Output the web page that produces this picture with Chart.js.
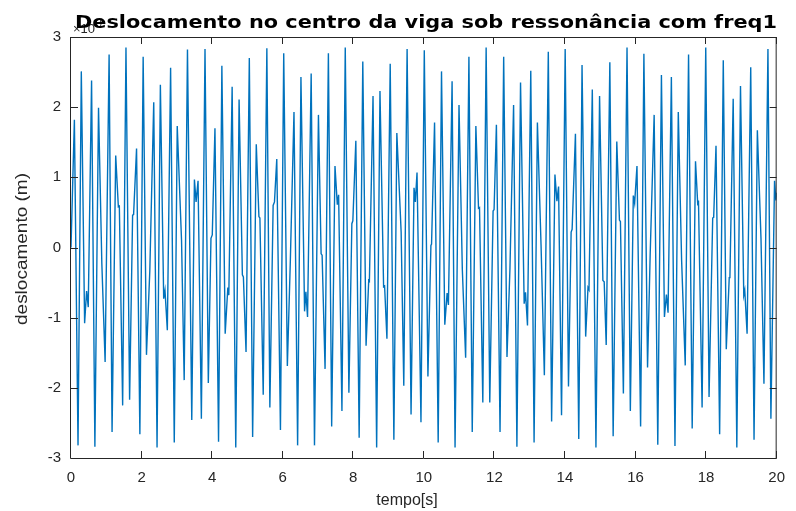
<!DOCTYPE html>
<html>
<head>
<meta charset="utf-8">
<script src="https://cdn.jsdelivr.net/npm/chart.js@4.4.1/dist/chart.umd.min.js"></script>
<style>
  html, body { margin: 0; padding: 0; background: #fff; }
</style>
</head>
<body>
<canvas id="grafico" width="796" height="511"></canvas>
<script>
// tempo em segundos, deslocamento em unidades de 1e-3 m
const tempo = [
  0, 0.096, 0.199, 0.292, 0.386, 0.442, 0.489, 0.583, 0.677, 0.780,
  0.874, 0.967, 1.080, 1.164, 1.267, 1.342, 1.370, 1.464, 1.558, 1.661,
  1.746, 1.774, 1.858, 1.952, 2.045, 2.139, 2.233, 2.345, 2.439, 2.533,
  2.627, 2.664, 2.730, 2.823, 2.927, 3.011, 3.133, 3.208, 3.301, 3.423,
  3.498, 3.545, 3.601, 3.695, 3.798, 3.892, 3.967, 4.004, 4.080, 4.182,
  4.276, 4.370, 4.445, 4.473, 4.567, 4.670, 4.764, 4.857, 4.886, 4.961,
  5.054, 5.148, 5.251, 5.326, 5.354, 5.448, 5.551, 5.636, 5.729, 5.767,
  5.832, 5.936, 6.029, 6.132, 6.217, 6.320, 6.423, 6.517, 6.620, 6.657,
  6.704, 6.807, 6.901, 7.013, 7.089, 7.117, 7.201, 7.295, 7.388, 7.482,
  7.548, 7.585, 7.679, 7.773, 7.876, 7.960, 7.988, 8.073, 8.167, 8.270,
  8.363, 8.438, 8.457, 8.560, 8.663, 8.757, 8.860, 8.888, 8.954, 9.047,
  9.151, 9.235, 9.357, 9.432, 9.526, 9.638, 9.722, 9.760, 9.807, 9.919,
  10.013, 10.116, 10.201, 10.219, 10.304, 10.407, 10.501, 10.594, 10.660, 10.697,
  10.801, 10.885, 10.997, 11.091, 11.185, 11.278, 11.372, 11.475, 11.550, 11.578,
  11.672, 11.766, 11.869, 11.963, 11.991, 12.057, 12.160, 12.263, 12.357, 12.441,
  12.544, 12.638, 12.741, 12.844, 12.882, 12.938, 13.031, 13.125, 13.219, 13.322,
  13.416, 13.528, 13.622, 13.716, 13.772, 13.819, 13.903, 14.006, 14.100, 14.175,
  14.203, 14.297, 14.391, 14.484, 14.587, 14.653, 14.681, 14.775, 14.878, 14.981,
  15.075, 15.112, 15.169, 15.272, 15.366, 15.469, 15.544, 15.572, 15.656, 15.759,
  15.853, 15.937, 15.975, 16.041, 16.144, 16.237, 16.341, 16.415, 16.528, 16.631,
  16.734, 16.819, 16.875, 16.922, 17.016, 17.118, 17.212, 17.306, 17.409, 17.503,
  17.606, 17.700, 17.765, 17.784, 17.887, 17.990, 18.084, 18.187, 18.215, 18.281,
  18.384, 18.487, 18.572, 18.656, 18.675, 18.768, 18.871, 18.975, 19.068, 19.096,
  19.162, 19.265, 19.359, 19.453, 19.556, 19.640, 19.753, 19.837, 19.940, 19.978,
  20.0
];

const deslocamento = [
  0, 1.82, -2.82, 2.51, -1.08, -0.62, -0.85, 2.38, -2.84, 1.99,
  -0.23, -1.63, 2.75, -2.63, 1.31, 0.58, 0.59, -2.25, 2.85, -2.17,
  0.46, 0.47, 1.41, -2.66, 2.72, -1.53, -0.34, 2.07, -2.85, 2.32,
  -0.73, -0.61, -1.18, 2.56, -2.78, 1.73, 0.10, -1.89, 2.82, -2.46,
  0.97, 0.65, 0.95, -2.44, 2.83, -1.93, 0.13, 0.18, 1.70, -2.77,
  2.59, -1.23, -0.57, -0.68, 2.29, -2.85, 2.11, -0.39, -0.42, -1.49,
  2.70, -2.70, 1.47, 0.44, 0.42, -2.10, 2.84, -2.28, 0.60, 0.65,
  1.26, -2.60, 2.77, -1.69, -0.18, 1.93, -2.82, 2.43, -0.91, -0.63,
  -0.99, 2.48, -2.82, 1.89, -0.09, -0.11, -1.73, 2.77, -2.55, 1.16,
  0.61, 0.75, -2.33, 2.85, -2.07, 0.34, 0.38, 1.52, -2.71, 2.65,
  -1.40, -0.47, -0.48, 2.16, -2.85, 2.23, -0.56, -0.55, -1.30, 2.62,
  -2.74, 1.63, 0.22, -1.97, 2.83, -2.38, 0.85, 0.65, 1.07, -2.49,
  2.81, -1.84, 0.03, 0.05, 1.78, -2.78, 2.51, -1.10, -0.65, -0.82,
  2.37, -2.85, 2.03, -0.31, -1.57, 2.72, -2.63, 1.73, 0.56, 0.57,
  -2.21, 2.85, -2.21, 0.52, 0.54, 1.75, -2.63, 2.72, -1.56, -0.30,
  2.03, -2.84, 2.35, -0.80, -0.64, -1.11, 2.52, -2.78, 1.78, 0.04,
  -1.82, 2.79, -2.48, 1.04, 0.66, 0.87, -2.39, 2.83, -1.98, 0.22,
  0.26, 1.62, -2.73, 2.60, -1.27, -0.57, -0.60, 2.25, -2.85, 2.16,
  -0.47, -0.49, -1.39, 2.64, -2.69, 1.51, 0.39, 0.37, -2.08, 2.85,
  -2.33, 0.74, 0.63, 1.16, -2.55, 2.76, -1.71, -0.10, 1.89, -2.81,
  2.46, -0.99, -0.67, -0.93, 2.43, -2.83, 1.93, -0.18, -1.68, 2.75,
  -2.58, 1.23, 0.60, 0.67, -2.28, 2.85, -2.13, 0.42, 0.43, 1.45,
  -2.66, 2.67, -1.45, -0.43, -0.42, 2.12, -2.85, 2.30, -0.68, -0.61,
  -1.23, 2.57, -2.74, 1.67, 0.13, -1.94, 2.83, -2.44, 0.95, 0.67,
  0.78
];

const xTicks = [0, 2, 4, 6, 8, 10, 12, 14, 16, 18, 20];
const yTicks = [-3, -2, -1, 0, 1, 2, 3];

const titulo = 'Deslocamento no centro da viga sob ressonância com freq1';
const rotuloX = 'tempo[s]';
const rotuloY = 'deslocamento (m)';

const corEixo = '#262626';
const fonte = '"Liberation Sans", Arial, sans-serif';

const pontos = tempo.map((t, i) => ({ x: t, y: deslocamento[i] }));

// caixa dos eixos, marcas internas e textos
const moldura = {
  id: 'moldura',
  afterDraw(chart) {
    const { ctx, chartArea: a, scales } = chart;
    const sx = scales.x, sy = scales.y;
    const tick = 7;
    ctx.save();
    ctx.strokeStyle = corEixo;
    ctx.lineWidth = 1;
    ctx.beginPath();
    ctx.rect(a.left - 0.5, a.top + 0.5, a.right - a.left, a.bottom - a.top);
    xTicks.forEach(v => {
      const px = Math.round(sx.getPixelForValue(v)) - 0.5;
      ctx.moveTo(px, a.bottom); ctx.lineTo(px, a.bottom - tick);
      ctx.moveTo(px, a.top); ctx.lineTo(px, a.top + tick);
    });
    yTicks.forEach(v => {
      const py = Math.round(sy.getPixelForValue(v)) + 0.5;
      ctx.moveTo(a.left, py); ctx.lineTo(a.left + tick, py);
      ctx.moveTo(a.right, py); ctx.lineTo(a.right - tick, py);
    });
    ctx.stroke();

    // multiplicador do eixo y
    ctx.fillStyle = corEixo;
    ctx.textBaseline = 'alphabetic';
    ctx.textAlign = 'left';
    ctx.font = '13px ' + fonte;
    ctx.fillText('\u00d710', 73, 33);
    ctx.font = '10px ' + fonte;
    ctx.fillText('-3', 93, 27);

    // titulo, largo como no original
    ctx.save();
    ctx.fillStyle = '#000';
    ctx.font = 'bold 18px "DejaVu Sans", ' + fonte;
    const w = ctx.measureText(titulo).width;
    ctx.translate(75, 28);
    ctx.scale(702 / w, 1);
    ctx.fillText(titulo, 0, 0);
    ctx.restore();

    // rotulo x
    ctx.fillStyle = corEixo;
    ctx.font = '16px ' + fonte;
    ctx.textAlign = 'center';
    ctx.fillText(rotuloX, 407, 505);

    // rotulo y
    ctx.save();
    ctx.translate(23, 249);
    ctx.rotate(-Math.PI / 2);
    ctx.font = '16px ' + fonte;
    const wy = ctx.measureText(rotuloY).width;
    ctx.scale(152 / wy, 1);
    ctx.textBaseline = 'middle';
    ctx.fillText(rotuloY, 0, 0);
    ctx.restore();

    ctx.restore();
  }
};

new Chart(document.getElementById('grafico'), {
  type: 'scatter',
  data: {
    datasets: [{
      data: pontos,
      showLine: true,
      borderColor: '#0072BD',
      borderWidth: 1.4,
      pointRadius: 0,
      tension: 0
    }]
  },
  options: {
    responsive: false,
    animation: false,
    layout: { padding: { left: 0, top: 37, right: 14, bottom: 0 } },
    plugins: { legend: { display: false }, tooltip: { enabled: false } },
    scales: {
      x: {
        type: 'linear',
        min: 0,
        max: 20,
        afterBuildTicks: s => { s.ticks = xTicks.map(v => ({ value: v })); },
        afterFit: s => { s.height = 53; },
        grid: { display: false, drawTicks: false },
        border: { display: false },
        ticks: {
          color: corEixo,
          font: { family: fonte, size: 15 },
          padding: 11,
          maxRotation: 0,
          autoSkip: false
        }
      },
      y: {
        type: 'linear',
        min: -3,
        max: 3,
        afterBuildTicks: s => { s.ticks = yTicks.map(v => ({ value: v })); },
        afterFit: s => { s.width = 71; },
        grid: { display: false, drawTicks: false },
        border: { display: false },
        ticks: {
          color: corEixo,
          font: { family: fonte, size: 15 },
          padding: 10,
          autoSkip: false
        }
      }
    }
  },
  plugins: [moldura]
});
</script>
</body>
</html>
